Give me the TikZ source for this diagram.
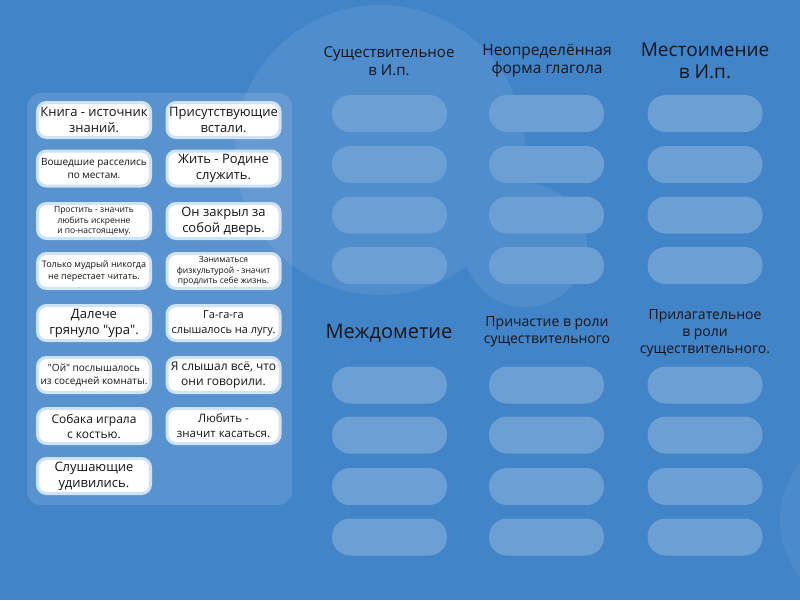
\documentclass[tikz,border=0pt]{standalone}
\usepackage{fontspec}
\setmainfont{Open Sans}[Ligatures=TeXOff]
\usetikzlibrary{calc}
\definecolor{skyback}{RGB}{65,132,200}
\definecolor{slotfill}{RGB}{108,160,213}
\definecolor{cloudedge}{RGB}{208,226,245}
\definecolor{inktext}{RGB}{20,20,25}

\begin{document}
\begin{tikzpicture}[x=1pt, y=-1pt,
              card/.style={draw=cloudedge, line width=3pt, fill=white, rounded corners=9pt, minimum width=113pt, minimum height=35pt, inner sep=1pt, align=center, text=inktext},
              slot/.style={fill=slotfill, rounded corners=18pt, minimum width=115pt, minimum height=37pt, inner sep=0pt},
              head/.style={align=center, text=inktext, font=\fontsize{14}{17}\selectfont}]
              \useasboundingbox (0,0) rectangle (800,600);
              \fill[skyback] (0,0) rectangle (800,600);
              \fill[white, opacity=0.08] (380,150) circle (145) (525,245) circle (62);
              \fill[white, opacity=0.06] (870,520) circle (90);
              \fill[white, opacity=0.13, rounded corners=14pt] (27,93) rectangle (292,505);
              \node[card, font=\fontsize{13}{16}\selectfont] (knig) at (94,120) {Книга - источник\\знаний.};
              \node[card, font=\fontsize{13}{16}\selectfont] (pris) at (223.5,120) {Присутствующие\\встали.};
              \node[card, font=\fontsize{10}{13}\selectfont] (vosh) at (94,168.5) {Вошедшие расселись\\по местам.};
              \node[card, font=\fontsize{13}{16}\selectfont] (zhit) at (223.5,168.5) {Жить - Родине\\служить.};
              \node[card, font=\fontsize{8.5}{10.5}\selectfont] (pros) at (94,221) {Простить - значить\\любить искренне\\и по-настоящему.};
              \node[card, font=\fontsize{13}{16}\selectfont] (onza) at (223.5,221) {Он закрыл за\\собой дверь.};
              \node[card, font=\fontsize{9}{12}\selectfont] (tolk) at (94,271) {Только мудрый никогда\\не перестает читать.};
              \node[card, font=\fontsize{8.5}{10.5}\selectfont] (zani) at (223.5,271) {Заниматься\\физкультурой - значит\\продлить себе жизнь.};
              \node[card, font=\fontsize{13}{16}\selectfont] (dale) at (94,323) {Далече\\грянуло "ура".};
              \node[card, font=\fontsize{11}{15}\selectfont] (gaga) at (223.5,323) {Га-га-га\\слышалось на лугу.};
              \node[card, font=\fontsize{10}{13}\selectfont] (oyps) at (94,375) {"Ой" послышалось\\из соседней комнаты.};
              \node[card, font=\fontsize{12}{15}\selectfont] (yasl) at (223.5,375) {Я слышал всё, что\\они говорили.};
              \node[card, font=\fontsize{12}{15}\selectfont] (soba) at (94,426) {Собака играла\\с костью.};
              \node[card, font=\fontsize{11.5}{15}\selectfont] (lubi) at (223.5,426) {Любить -\\значит касаться.};
              \node[card, font=\fontsize{13}{16}\selectfont] (slus) at (94,476) {Слушающие\\удивились.};
              \node[head, font=\fontsize{15}{18}\selectfont] (nounhead) at (389,61) {Существительное\\в И.п.};
              \node[head, font=\fontsize{15.5}{18}\selectfont] (verbhead) at (547,61) {Неопределённая\\форма глагола};
              \node[head, font=\fontsize{19}{22}\selectfont] (pronhead) at (705,61) {Местоимение\\в И.п.};
              \node[head, font=\fontsize{20}{24}\selectfont] (interhead) at (389,333) {Междометие};
              \node[head] (parthead) at (547,332) {Причастие в роли\\существительного};
              \node[head] (adjhead) at (705,333) {Прилагательное\\в роли\\существительного.};
              \node[slot] (noun1) at (389.5,113.5) {};
              \node[slot] (noun2) at (389.5,164.5) {};
              \node[slot] (noun3) at (389.5,215) {};
              \node[slot] (noun4) at (389.5,265.5) {};
              \node[slot] (verb1) at (546.5,113.5) {};
              \node[slot] (verb2) at (546.5,164.5) {};
              \node[slot] (verb3) at (546.5,215) {};
              \node[slot] (verb4) at (546.5,265.5) {};
              \node[slot] (pron1) at (705,113.5) {};
              \node[slot] (pron2) at (705,164.5) {};
              \node[slot] (pron3) at (705,215) {};
              \node[slot] (pron4) at (705,265.5) {};
              \node[slot] (inter1) at (389.5,385) {};
              \node[slot] (inter2) at (389.5,435) {};
              \node[slot] (inter3) at (389.5,486.5) {};
              \node[slot] (inter4) at (389.5,537) {};
              \node[slot] (part1) at (546.5,385) {};
              \node[slot] (part2) at (546.5,435) {};
              \node[slot] (part3) at (546.5,486.5) {};
              \node[slot] (part4) at (546.5,537) {};
              \node[slot] (adj1) at (705,385) {};
              \node[slot] (adj2) at (705,435) {};
              \node[slot] (adj3) at (705,486.5) {};
              \node[slot] (adj4) at (705,537) {};
          \end{tikzpicture}
\end{document}
